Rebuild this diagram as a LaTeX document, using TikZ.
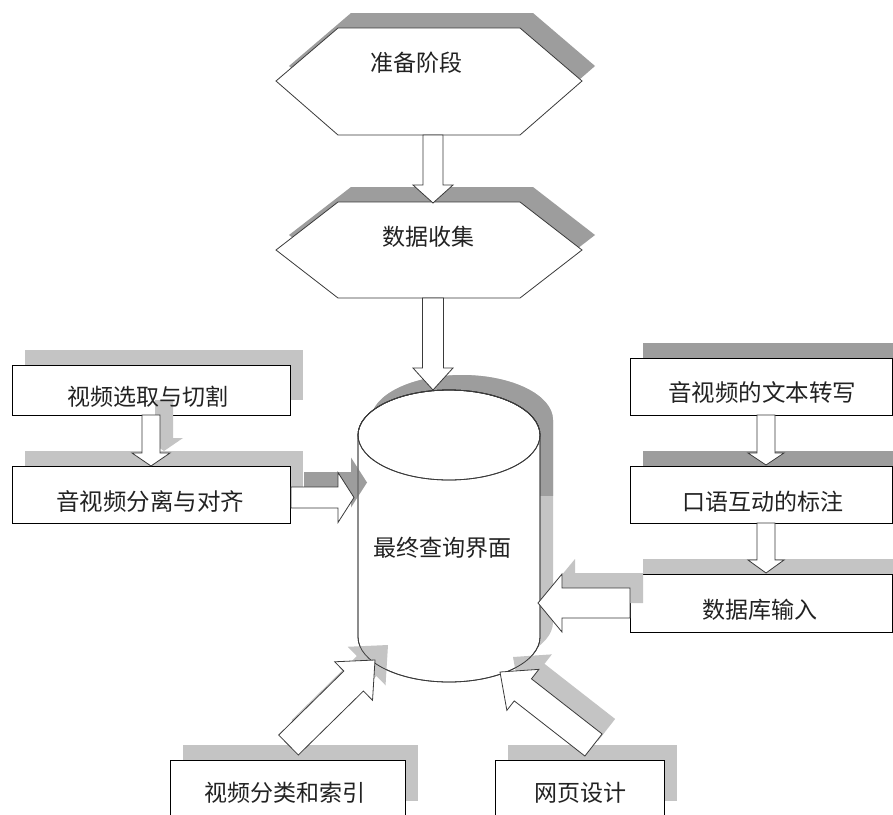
\documentclass[tikz,border=0pt]{standalone}
\usepackage{fontspec}
\newfontfamily\cjk{Noto Sans CJK SC}
\usetikzlibrary{calc,shadows}
\definecolor{shdark}{HTML}{9D9D9D}
\definecolor{shlight}{HTML}{C4C4C4}
\definecolor{edgec}{HTML}{3A3A3A}
\definecolor{txtc}{HTML}{222222}
\tikzset{
  shd/.style={general shadow={shadow xshift=13pt,shadow yshift=15pt,fill=#1}},
  boxst/.style={draw=black,line width=0.9pt,fill=white,rectangle,inner sep=0pt,outer sep=0pt},
  hexst/.style={draw=edgec,line width=0.8pt,fill=white},
  cylst/.style={draw=edgec,line width=0.8pt},
  blockarr/.style={draw=edgec,line width=0.8pt,fill=white,line join=miter},
  lbl/.style={inner sep=0pt,font=\cjk\fontsize{23}{23}\selectfont,text=txtc},
  lblbig/.style={inner sep=0pt,font=\cjk\fontsize{23.5}{23.5}\selectfont,text=txtc},
}
% prefix, tail, tip, half shaft, half head, head length
\newcommand\mkarrow[6]{%
  \coordinate (#1t) at (#2);
  \coordinate (#1e) at (#3);
  \coordinate (#1h) at ($(#1e)!#6!(#1t)$);
  \coordinate (#1p) at ($(#1t)!#4!90:(#1e)$);
  \coordinate (#1q) at ($(#1t)!#4!-90:(#1e)$);
  \coordinate (#1r) at ($(#1h)!#4!-90:(#1t)$);
  \coordinate (#1s) at ($(#1h)!#4!90:(#1t)$);
  \coordinate (#1u) at ($(#1h)!#5!-90:(#1t)$);
  \coordinate (#1v) at ($(#1h)!#5!90:(#1t)$);
}
\newcommand\blkpath[1]{(#1p) -- (#1r) -- (#1u) -- (#1e) -- (#1v) -- (#1s) -- (#1q) -- cycle}
\newcommand\blkdraw[1]{\draw[blockarr] \blkpath{#1};}
\newcommand\blkshadow[2]{\fill[#2,transform canvas={xshift=13pt,yshift=15pt}] \blkpath{#1};}
\newcommand\cylpath[3]{(#1-91,#2) -- (#1-91,#3) arc[start angle=180,end angle=360,x radius=91,y radius=45] -- (#1+91,#2) arc[start angle=0,end angle=180,x radius=91,y radius=45] -- cycle}

\begin{document}
\begin{tikzpicture}[x=1pt,y=1pt]
\useasboundingbox (0,0) rectangle (893,-814);
\clip (0,0) rectangle (893,-814);
\fill[white] (0,0) rectangle (893,-814);

% hexagons
\draw[hexst,shd=shdark] (276,-81) -- (338,-28) -- (520,-28) -- (582,-81) -- (520,-135) -- (338,-135) -- cycle;
\coordinate (hexA) at (429,-81);
\draw[hexst,shd=shdark] (276,-250) -- (338,-202) -- (520,-202) -- (582,-250) -- (520,-298) -- (338,-298) -- cycle;
\coordinate (hexB) at (429,-250);

% arrow hexA -> hexB
\mkarrow{aa}{433,-135}{433,-203}{10pt}{20pt}{18pt}
\blkdraw{aa}

% cylinder shadow (two tones)
\fill[shlight] \cylpath{462}{-420}{-622};
\begin{scope}
  \clip (0,0) rectangle (893,-495);
  \fill[shdark] \cylpath{462}{-420}{-622};
\end{scope}
% cylinder
\fill[white] \cylpath{449}{-435}{-637};
\draw[cylst] \cylpath{449}{-435}{-637};
\draw[cylst] (449,-435) ellipse[x radius=91,y radius=45];
\coordinate (cyl) at (449,-536);

% arrow hexB -> cylinder
\mkarrow{ab}{433,-298}{433,-390}{10.5pt}{20pt}{22pt}
\blkdraw{ab}

% boxes
\node[boxst,shd=shlight,minimum width=278pt,minimum height=50pt] (L1) at (151,-390) {};
\node[boxst,shd=shlight,minimum width=278pt,minimum height=57pt] (L2) at (151,-494.5) {};
\node[boxst,shd=shdark,minimum width=262pt,minimum height=57pt] (R1) at (761,-386.5) {};
\node[boxst,shd=shdark,minimum width=262pt,minimum height=57pt] (R2) at (761,-494.5) {};
\node[boxst,shd=shlight,minimum width=262pt,minimum height=58pt] (R3) at (761,-603) {};
\node[boxst,shd=shlight,minimum width=235pt,minimum height=56pt] (B1) at (287.5,-788) {};
\node[boxst,shd=shlight,minimum width=169pt,minimum height=56pt] (B2) at (579.5,-788) {};

% arrows geometry
\mkarrow{ac}{151,-415}{151,-466}{9pt}{19pt}{13pt}
\mkarrow{ad}{291,-497.5}{354,-497.5}{10.5pt}{25pt}{16pt}
\mkarrow{ae}{766,-415}{766,-465}{9pt}{18pt}{12pt}
\mkarrow{af}{766,-523}{766,-573}{9pt}{18pt}{13pt}
\mkarrow{ag}{630,-603}{538,-603}{15pt}{29pt}{24pt}
\mkarrow{ah}{288.5,-745}{375,-660}{14pt}{27pt}{30pt}
\mkarrow{ai}{593.5,-745}{500,-672}{14pt}{26pt}{29pt}

% arrow shadows
\blkshadow{ac}{shlight}
\blkshadow{ad}{shdark}
\blkshadow{ag}{shlight}
\blkshadow{ah}{shlight}
\blkshadow{ai}{shlight}

% cylinder outline again
\draw[cylst] \cylpath{449}{-435}{-637};
\draw[cylst] (449,-435) ellipse[x radius=91,y radius=45];

% arrows
\blkdraw{ac}
\blkdraw{ad}
\blkdraw{ae}
\blkdraw{af}
\blkdraw{ag}
\blkdraw{ah}
\blkdraw{ai}

% texts
\node[lbl] (tA) at (416,-63) {准备阶段};
\node[lbl] (tB) at (428,-237) {数据收集};
\node[lbl] (tC) at (442,-548) {最终查询界面};
\node[lbl] (tL1) at (148,-397) {视频选取与切割};
\node[lblbig] (tL2) at (150,-502) {音视频分离与对齐};
\node[lblbig] (tR1) at (762,-393) {音视频的文本转写};
\node[lbl] (tR2) at (763,-502) {口语互动的标注};
\node[lbl] (tR3) at (760,-610) {数据库输入};
\node[lbl] (tB1) at (285,-793) {视频分类和索引};
\node[lbl] (tB2) at (580,-793) {网页设计};
\end{tikzpicture}
\end{document}
